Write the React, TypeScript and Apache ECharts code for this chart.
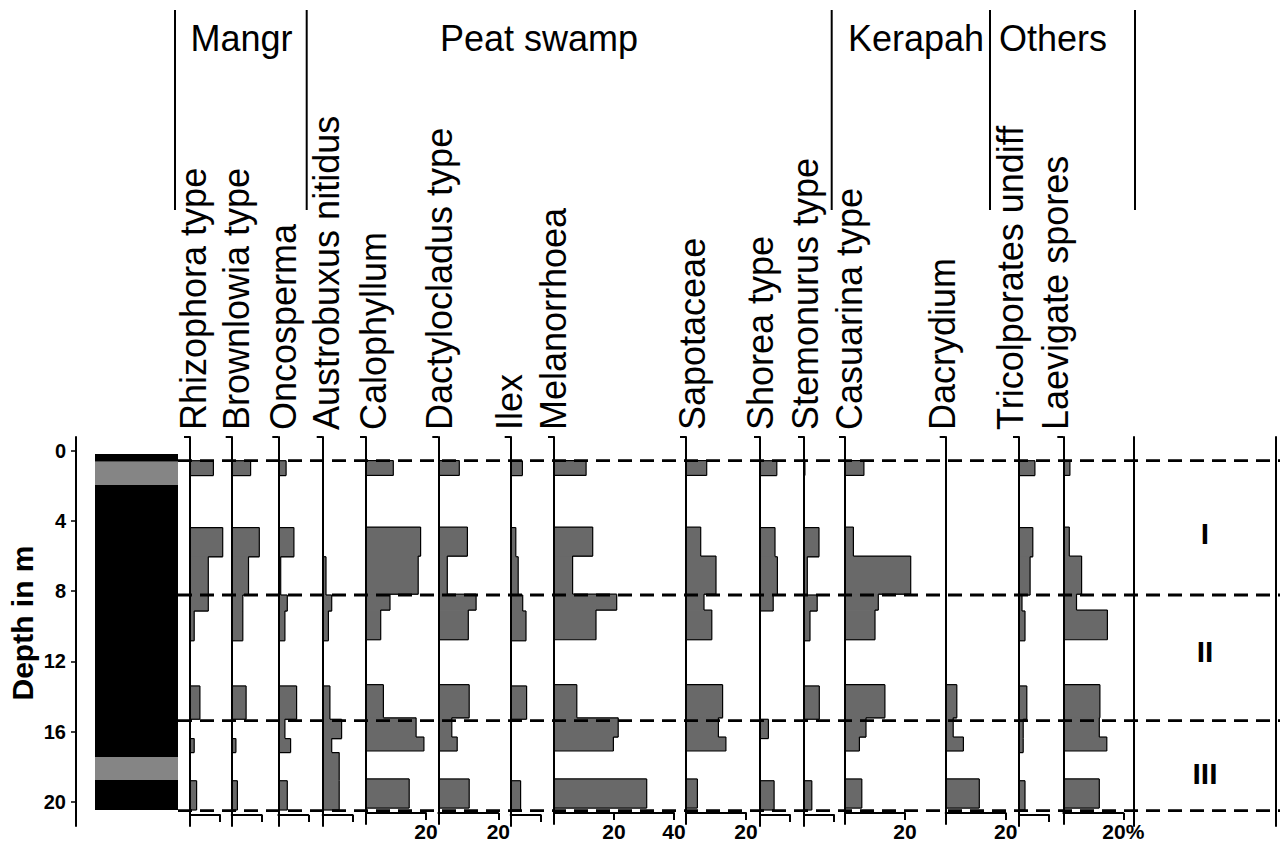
import React, { useEffect, useRef } from 'react';
import * as echarts from 'echarts';

// ---------- DATA ----------
// sample intervals (depth in m)
const depthTop = [0.57, 4.38, 6.04, 8.22, 9.13, 13.4, 15.3, 16.4, 17.2, 18.8];
const depthBottom = [1.42, 6.04, 8.22, 9.13, 10.83, 15.3, 16.4, 17.2, 18.8, 20.47];

const taxa = [
  'Rhizophora type', 'Brownlowia type', 'Oncosperma', 'Austrobuxus nitidus', 'Calophyllum',
  'Dactylocladus type', 'Ilex', 'Melanorrhoea', 'Sapotaceae', 'Shorea type', 'Stemonurus type',
  'Casuarina type', 'Dacrydium', 'Tricolporates undiff', 'Laevigate spores',
];

// percentages per sample
const rhizophora = [7.8, 10.9, 6.1, 6.1, 1.4, 3.3, 0, 1.4, 0, 2.2];
const brownlowia = [6.3, 9.2, 5.6, 3.7, 3.7, 4.8, 0, 1.4, 0, 1.9];
const oncosperma = [2.6, 5.2, 0.8, 3.0, 2.2, 6.1, 2.2, 4.1, 0, 3.0];
const austrobuxus = [0, 0, 1.1, 3.0, 1.9, 2.4, 6.3, 3.0, 5.5, 5.5];
const calophyllum = [9.1, 18.2, 17.4, 8.0, 4.9, 5.8, 16.7, 19.3, 0, 14.4];
const dactylocladus = [7.0, 9.7, 3.0, 12.6, 10.0, 10.3, 4.5, 6.3, 0, 10.3];
const ilex = [3.9, 1.7, 2.5, 4.0, 5.1, 5.3, 0, 0, 0, 3.3];
const melanorrhoea = [10.7, 12.9, 6.2, 20.9, 14.0, 7.6, 21.4, 19.8, 0, 30.9];
const sapotaceae = [6.9, 4.9, 10.0, 6.0, 8.6, 12.2, 10.8, 13.3, 0, 3.8];
const shorea = [5.6, 5.0, 5.8, 4.4, 0, 0, 2.8, 0, 0, 4.7];
const stemonurus = [0.3, 5.0, 1.1, 4.4, 2.0, 5.1, 0, 0, 0, 2.6];
const casuarina = [6.3, 2.8, 21.9, 11.1, 10.0, 13.3, 7.0, 4.8, 0, 5.6];
const dacrydium = [0, 0, 0, 0, 0, 3.7, 2.5, 5.9, 0, 11.2];
const tricolporates = [5.3, 4.6, 3.7, 1.0, 2.0, 2.6, 1.4, 1.4, 0, 2.0];
const laevigate = [2.2, 2.0, 6.1, 4.4, 14.7, 12.2, 12.0, 14.5, 0, 12.0];

const values = [
  rhizophora, brownlowia, oncosperma, austrobuxus, calophyllum, dactylocladus, ilex,
  melanorrhoea, sapotaceae, shorea, stemonurus, casuarina, dacrydium, tricolporates, laevigate,
];

const axisMax = [10, 10, 10, 10, 20, 20, 10, 40, 20, 10, 10, 20, 20, 10, 20];
const axisLabelValues = [[], [], [], [], [20], [20], [], [20, 40], [20], [], [], [20], [20], [], [20]];

const groups = ['Mangr', 'Peat swamp', 'Kerapah', 'Others'];

const zoneBoundaries = [0.57, 8.22, 15.38, 20.5];
const zoneNames = ['I', 'II', 'III'];
const zoneLabelDepth = [4.7, 11.45, 18.4];

const lithTop = [0.19, 0.63, 1.95, 17.45, 18.76];
const lithBottom = [0.63, 1.95, 17.45, 18.76, 20.47];
const lithType = [0, 1, 0, 1, 0];

const depthTicks = [0, 4, 8, 12, 16, 20];

// ---------- LAYOUT ----------
const colLeft = [190, 231.7, 278.3, 322.7, 366, 438.3, 510.7, 554, 686, 760, 804, 845, 945.7, 1019, 1063.3];
const labelX = [193, 236, 283, 326, 373, 439, 509, 553, 692, 760, 805, 849, 942, 1010, 1055];
const groupX = [241.5, 539, 916, 1053];
const headerLineX = [175, 306.7, 831.7, 990, 1135];
const PX = 3;
const TOP = 437;
const HEIGHT = 389;
const Y_MIN = -0.78;
const Y_MAX = 21.38;
const FONT = '"Liberation Sans", Arial, sans-serif';
const BAR_FILL = '#696969';
const LITH_FILL = ['#000000', '#858585'];

const makeBarRenderer = (vals: number[]) => (params: any, api: any) => {
  const k = api.value(3);
  const v = api.value(0);
  if (!(v > 0)) return null;
  const top = api.value(1);
  const bot = api.value(2);
  const p0 = api.coord([0, top]);
  const p1 = api.coord([v, bot]);
  const prevV = k > 0 && Math.abs(depthBottom[k - 1] - top) < 1e-6 ? vals[k - 1] : 0;
  const nextV = k < vals.length - 1 && Math.abs(depthTop[k + 1] - bot) < 1e-6 ? vals[k + 1] : 0;
  const xp = api.coord([prevV, top])[0];
  const line = (ax: number, ay: number, bx: number, by: number) => ({
    type: 'line',
    shape: { x1: ax, y1: ay, x2: bx, y2: by },
    style: { stroke: '#000', lineWidth: 1.2 },
  });
  const overlap = nextV > 0 ? 0.8 : 0;
  const children: any[] = [
    { type: 'rect', shape: { x: p0[0], y: p0[1], width: p1[0] - p0[0], height: p1[1] - p0[1] + overlap }, style: { fill: BAR_FILL } },
    line(p1[0], p0[1], p1[0], p1[1]),
    line(xp, p0[1], p1[0], p0[1]),
  ];
  if (!(nextV > 0)) children.push(line(p0[0], p1[1], p1[0], p1[1]));
  return { type: 'group', children };
};

export default function App() {
  const ref = useRef<HTMLDivElement>(null);
  useEffect(() => {
    const chart = echarts.init(ref.current!, null, { renderer: 'svg' });
    const grid: any[] = [];
    const xAxis: any[] = [];
    const yAxis: any[] = [];
    const series: any[] = [];

    values.forEach((vals, i) => {
      grid.push({ left: colLeft[i], top: TOP, width: axisMax[i] * PX, height: HEIGHT });
      const labs = axisLabelValues[i];
      const isLast = i === values.length - 1;
      xAxis.push({
        gridIndex: i, type: 'value', min: 0, max: axisMax[i], position: 'bottom', offset: -11,
        axisLine: { show: true, onZero: false, lineStyle: { color: '#000', width: 2 } },
        axisTick: { show: true, customValues: axisMax[i] === 40 ? [20, 40] : [axisMax[i]], length: 7, lineStyle: { color: '#000', width: 2 } },
        axisLabel: {
          show: labs.length > 0, customValues: labs, margin: 8,
          formatter: isLast ? '{value}%' : '{value}',
          fontSize: 21, fontWeight: 'bold', fontFamily: FONT, color: '#000',
        },
        splitLine: { show: false },
      });
      yAxis.push({
        gridIndex: i, type: 'value', inverse: true, min: Y_MIN, max: Y_MAX, position: 'left', z: 3,
        axisLine: { show: true, onZero: false, lineStyle: { color: '#000', width: 2 } },
        axisTick: { show: true, customValues: [Y_MIN], length: 6, lineStyle: { color: '#000', width: 2 } },
        axisLabel: { show: false },
        splitLine: { show: false },
      });
      series.push({
        type: 'custom', name: taxa[i], xAxisIndex: i, yAxisIndex: i, silent: true, z: 2,
        renderItem: makeBarRenderer(vals),
        data: vals.map((v, k) => [v, depthTop[k], depthBottom[k], k]),
      });
    });

    // lithology + depth axis
    const gL = grid.length;
    grid.push({ left: 95, top: TOP, width: 83, height: HEIGHT });
    xAxis.push({ gridIndex: gL, type: 'value', min: 0, max: 1, show: false });
    yAxis.push({
      gridIndex: gL, type: 'value', inverse: true, min: Y_MIN, max: Y_MAX, position: 'left', offset: 19,
      axisLine: { show: true, onZero: false, lineStyle: { color: '#000', width: 2 } },
      axisTick: { show: true, customValues: depthTicks, length: 5, lineStyle: { color: '#000', width: 1.5 } },
      axisLabel: { show: true, customValues: depthTicks, margin: 10, fontSize: 20, fontWeight: 'bold', fontFamily: FONT, color: '#000' },
      splitLine: { show: false },
    });
    series.push({
      type: 'custom', xAxisIndex: gL, yAxisIndex: gL, silent: true,
      data: lithTop.map((t, k) => [0, t, lithBottom[k], lithType[k]]),
      renderItem: (params: any, api: any) => {
        const p0 = api.coord([0, api.value(1)]);
        const p1 = api.coord([1, api.value(2)]);
        return { type: 'rect', shape: { x: p0[0], y: p0[1], width: p1[0] - p0[0], height: p1[1] - p0[1] }, style: { fill: LITH_FILL[api.value(3)] } };
      },
    });

    // dashed zone boundaries overlay
    const gD = grid.length;
    grid.push({ left: 178, top: TOP, width: 1102, height: HEIGHT });
    xAxis.push({ gridIndex: gD, type: 'value', min: 0, max: 1, show: false });
    yAxis.push({ gridIndex: gD, type: 'value', inverse: true, min: Y_MIN, max: Y_MAX, show: false });
    series.push({
      type: 'custom', xAxisIndex: gD, yAxisIndex: gD, silent: true, z: 10,
      data: zoneBoundaries.map((d) => [0, d]),
      renderItem: (params: any, api: any) => {
        const p0 = api.coord([0, api.value(1)]);
        const p1 = api.coord([1, api.value(1)]);
        return { type: 'line', shape: { x1: p0[0], y1: p0[1], x2: p1[0], y2: p1[1] }, style: { stroke: '#000', lineWidth: 2.8, lineDash: [14, 8] } };
      },
    });

    // zone column
    const gZ = grid.length;
    grid.push({ left: 1134, top: TOP, width: 142, height: HEIGHT });
    xAxis.push({ gridIndex: gZ, type: 'value', min: 0, max: 1, show: false });
    const zoneY = (pos: string) => ({
      gridIndex: gZ, type: 'value', inverse: true, min: Y_MIN, max: Y_MAX, position: pos,
      axisLine: { show: true, onZero: false, lineStyle: { color: '#000', width: 2 } },
      axisTick: { show: false }, axisLabel: { show: false }, splitLine: { show: false },
    });
    const yZL = yAxis.length;
    yAxis.push(zoneY('left'));
    yAxis.push(zoneY('right'));
    series.push({
      type: 'custom', xAxisIndex: gZ, yAxisIndex: yZL, silent: true,
      data: zoneLabelDepth.map((d, k) => [0.5, d, k]),
      renderItem: (params: any, api: any) => {
        const p = api.coord([api.value(0), api.value(1)]);
        return {
          type: 'text', x: p[0], y: p[1],
          style: { text: zoneNames[api.value(2)], fontSize: 30, fontWeight: 'bold', fontFamily: FONT, fill: '#000', align: 'center', verticalAlign: 'middle' },
        };
      },
    });

    const graphic: any[] = [];
    taxa.forEach((t, i) => {
      graphic.push({
        type: 'text', x: labelX[i], y: 430, rotation: Math.PI / 2,
        style: { text: t, fontSize: 36, fontFamily: FONT, fill: '#000', align: 'left', verticalAlign: 'middle' },
      });
    });
    groups.forEach((g, i) => {
      graphic.push({
        type: 'text', x: groupX[i], y: 38,
        style: { text: g, fontSize: 36, fontFamily: FONT, fill: '#000', align: 'center', verticalAlign: 'middle' },
      });
    });
    headerLineX.forEach((x) => {
      graphic.push({ type: 'line', shape: { x1: x, y1: 10, x2: x, y2: 210 }, style: { stroke: '#000', lineWidth: 2 } });
    });
    graphic.push({
      type: 'text', x: 22, y: 623, rotation: Math.PI / 2,
      style: { text: 'Depth in m', fontSize: 30, fontWeight: 'bold', fontFamily: FONT, fill: '#000', align: 'center', verticalAlign: 'middle' },
    });

    chart.setOption({
      animation: false,
      backgroundColor: '#fff',
      grid, xAxis, yAxis, series, graphic,
    });
    return () => chart.dispose();
  }, []);
  return <div ref={ref} style={{ position: 'fixed', left: 0, top: 0, width: 1280, height: 842, background: '#fff' }} />;
}
